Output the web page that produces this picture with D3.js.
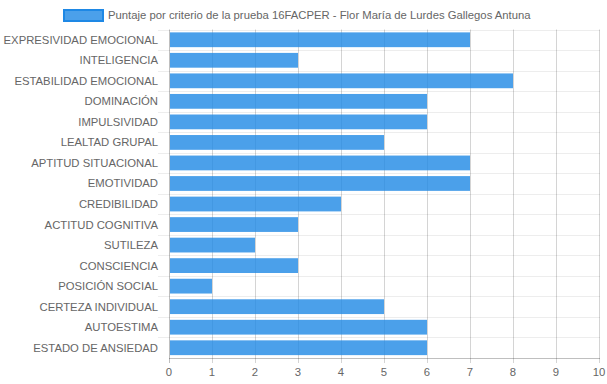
<!DOCTYPE html>
<html>
<head>
<meta charset="utf-8">
<script src="https://cdn.jsdelivr.net/npm/d3@7"></script>
<style>
  body { margin: 0; background: #fff; }
  text { font-family: "Liberation Sans", Arial, sans-serif; }
</style>
</head>
<body>
<svg id="viz"></svg>
<script>
// chart data
const categories = [
  "EXPRESIVIDAD EMOCIONAL", "INTELIGENCIA", "ESTABILIDAD EMOCIONAL", "DOMINACIÓN",
  "IMPULSIVIDAD", "LEALTAD GRUPAL", "APTITUD SITUACIONAL", "EMOTIVIDAD",
  "CREDIBILIDAD", "ACTITUD COGNITIVA", "SUTILEZA", "CONSCIENCIA",
  "POSICIÓN SOCIAL", "CERTEZA INDIVIDUAL", "AUTOESTIMA", "ESTADO DE ANSIEDAD"
];
const scores = [7, 3, 8, 6, 6, 5, 7, 7, 4, 3, 2, 3, 1, 5, 6, 6];
const xTicks = [0, 1, 2, 3, 4, 5, 6, 7, 8, 9, 10];
const seriesName = "Puntaje por criterio de la prueba 16FACPER - Flor María de Lurdes Gallegos Antuna";

const width = 607, height = 384;
const plotLeft = 169, plotRight = 599, plotTop = 29.5, plotBottom = 358;
const fontSize = 11.3;

const svg = d3.select("#viz").attr("width", width).attr("height", height);

const x = d3.scaleLinear().domain([0, 10]).range([plotLeft, plotRight]);
const y = d3.scaleBand().domain(categories).range([plotTop, plotBottom]).paddingInner(0.28).paddingOuter(0.14);
const yRow = d3.scaleBand().domain(categories).range([plotTop, plotBottom]);

const grid = svg.append("g");

// horizontal grid lines between rows
grid.selectAll("line.h")
  .data(categories)
  .enter().append("line")
  .attr("x1", plotLeft - 11).attr("x2", plotRight + 1)
  .attr("y1", d => Math.round(yRow(d)) + 0.5)
  .attr("y2", d => Math.round(yRow(d)) + 0.5)
  .attr("stroke", "rgba(0,0,0,0.07)");

// vertical grid lines at each tick
grid.selectAll("line.v")
  .data(xTicks)
  .enter().append("line")
  .attr("x1", d => Math.round(x(d)) + 0.5)
  .attr("x2", d => Math.round(x(d)) + 0.5)
  .attr("y1", plotTop).attr("y2", plotBottom + 5)
  .attr("stroke", d => d === 0 ? "rgba(0,0,0,0.25)" : "rgba(0,0,0,0.17)");

// bottom axis line
grid.append("line")
  .attr("x1", plotLeft).attr("x2", plotRight + 1)
  .attr("y1", plotBottom + 0.5).attr("y2", plotBottom + 0.5)
  .attr("stroke", "rgba(0,0,0,0.25)");

// bars
svg.selectAll("rect.bar")
  .data(categories)
  .enter().append("rect")
  .attr("class", "bar")
  .attr("x", x(0) + 1)
  .attr("y", d => y(d))
  .attr("width", (d, i) => x(scores[i]) - x(0) - 1)
  .attr("height", y.bandwidth())
  .attr("fill", "rgba(30,136,229,0.8)");

// category labels
svg.selectAll("text.cat")
  .data(categories)
  .enter().append("text")
  .attr("x", plotLeft - 11)
  .attr("y", d => yRow(d) + yRow.bandwidth() / 2)
  .attr("dy", "0.35em")
  .attr("text-anchor", "end")
  .attr("font-size", fontSize)
  .attr("fill", "#666")
  .text(d => d);

// x tick labels
svg.selectAll("text.xt")
  .data(xTicks)
  .enter().append("text")
  .attr("x", d => x(d))
  .attr("y", 376)
  .attr("text-anchor", "middle")
  .attr("font-size", fontSize)
  .attr("fill", "#666")
  .text(d => d);

// legend
const legend = svg.append("g");
legend.append("rect")
  .attr("x", 64).attr("y", 10).attr("width", 39).attr("height", 11)
  .attr("fill", "rgba(30,136,229,0.8)")
  .attr("stroke", "#1e88e5").attr("stroke-width", 2);
legend.append("text")
  .attr("x", 108).attr("y", 15.5).attr("dy", "0.35em")
  .attr("font-size", fontSize).attr("fill", "#666")
  .text(seriesName);
</script>
</body>
</html>
